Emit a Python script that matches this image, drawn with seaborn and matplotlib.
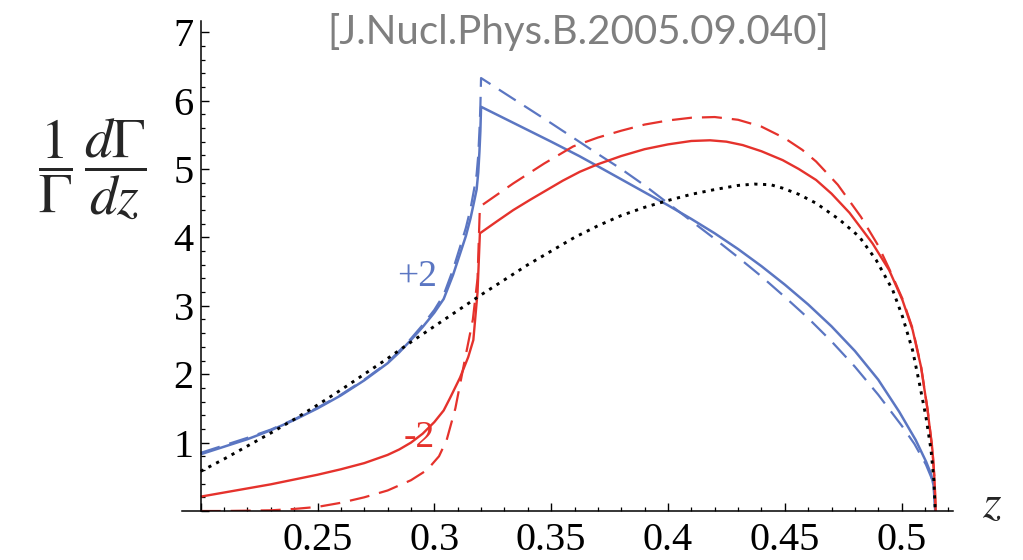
import matplotlib
matplotlib.use("Agg")
import matplotlib.pyplot as plt
import numpy as np
import pandas as pd
import seaborn as sns

# ---- data: 1/Gamma dGamma/dz versus z ----
blue_solid_z = [0.2000, 0.2100, 0.2200, 0.2300, 0.2400, 0.2500, 0.2600, 0.2700, 0.2800,
                0.2850, 0.2900, 0.2950, 0.3000, 0.3040, 0.3080, 0.3110, 0.3135, 0.3155,
                0.3170, 0.3181, 0.3188, 0.3193, 0.3197, 0.3200,
                0.3300, 0.3400, 0.3500, 0.3620, 0.3700, 0.3800, 0.3900, 0.4000, 0.4100,
                0.4200, 0.4300, 0.4400, 0.4500, 0.4600, 0.4700, 0.4800, 0.4900, 0.4990,
                0.5060, 0.5105, 0.5126, 0.5137, 0.5144]
blue_solid_y = [0.83, 0.94, 1.05, 1.18, 1.33, 1.50, 1.69, 1.91, 2.16,
                2.32, 2.50, 2.69, 2.90, 3.10, 3.45, 3.76, 4.02, 4.28,
                4.52, 4.70, 4.95, 5.25, 5.55, 5.91,
                5.74, 5.57, 5.40, 5.19, 5.04, 4.85, 4.66, 4.47, 4.27,
                4.06, 3.83, 3.58, 3.31, 3.02, 2.70, 2.34, 1.92, 1.45,
                1.04, 0.72, 0.54, 0.37, 0.00]

blue_dash_z = [0.2000, 0.2100, 0.2200, 0.2300, 0.2400, 0.2500, 0.2600, 0.2700, 0.2800,
               0.2850, 0.2900, 0.2950, 0.3000, 0.3040, 0.3080, 0.3110, 0.3135, 0.3155,
               0.3170, 0.3181, 0.3188, 0.3193, 0.3197, 0.3200,
               0.3300, 0.3400, 0.3500, 0.3620, 0.3700, 0.3800, 0.3900, 0.4000, 0.4100,
               0.4200, 0.4300, 0.4400, 0.4500, 0.4600, 0.4700, 0.4800, 0.4900, 0.5000,
               0.5055, 0.5104, 0.5132, 0.5141, 0.5144]
blue_dash_y = [0.85, 0.96, 1.07, 1.19, 1.34, 1.51, 1.70, 1.92, 2.17,
               2.34, 2.52, 2.72, 2.94, 3.16, 3.53, 3.86, 4.14, 4.42,
               4.70, 4.92, 5.20, 5.55, 5.90, 6.33,
               6.11, 5.89, 5.67, 5.40, 5.22, 5.00, 4.76, 4.50, 4.24,
               3.98, 3.71, 3.43, 3.13, 2.82, 2.48, 2.11, 1.70, 1.25,
               0.98, 0.68, 0.45, 0.26, 0.00]

red_solid_z = [0.2000, 0.2100, 0.2200, 0.2300, 0.2400, 0.2500, 0.2600, 0.2700, 0.2800,
               0.2850, 0.2900, 0.2950, 0.3000, 0.3040, 0.3067, 0.3110, 0.3145, 0.3167,
               0.3185, 0.3195,
               0.3270, 0.3338, 0.3410, 0.3480, 0.3550, 0.3623, 0.3700, 0.3800, 0.3900,
               0.4000, 0.4100, 0.4180, 0.4250, 0.4320, 0.4400, 0.4491, 0.4560, 0.4634,
               0.4700, 0.4777, 0.4830, 0.4876, 0.4947, 0.5004, 0.5047, 0.5083, 0.5111,
               0.5132, 0.5141, 0.5146]
red_solid_y = [0.21, 0.27, 0.33, 0.39, 0.46, 0.53, 0.61, 0.70, 0.82,
               0.90, 1.00, 1.13, 1.30, 1.47, 1.65, 1.95, 2.25, 2.50,
               3.20, 4.06,
               4.24, 4.40, 4.55, 4.69, 4.83, 4.96, 5.07, 5.19, 5.29,
               5.36, 5.41, 5.42, 5.40, 5.35, 5.26, 5.13, 5.00, 4.84,
               4.64, 4.36, 4.12, 3.91, 3.52, 3.08, 2.65, 2.11, 1.48,
               0.89, 0.45, 0.00]

red_dash_z = [0.2000, 0.2100, 0.2200, 0.2300, 0.2400, 0.2500, 0.2600, 0.2700, 0.2800,
              0.2900, 0.2969, 0.3020, 0.3053, 0.3090, 0.3130, 0.3165, 0.3185, 0.3195,
              0.3338, 0.3470, 0.3594, 0.3700, 0.3800, 0.3900, 0.4000, 0.4100, 0.4200,
              0.4300, 0.4400, 0.4500, 0.4575, 0.4634, 0.4727, 0.4826, 0.4900, 0.4947,
              0.5004, 0.5047, 0.5083, 0.5111, 0.5132, 0.5141, 0.5146]
red_dash_y = [0.00, 0.00, 0.005, 0.01, 0.03, 0.06, 0.12, 0.20, 0.30,
              0.45, 0.60, 0.80, 1.04, 1.50, 2.20, 2.80, 3.40, 4.45,
              4.79, 5.08, 5.33, 5.46, 5.56, 5.65, 5.71, 5.75, 5.76,
              5.72, 5.62, 5.45, 5.28, 5.11, 4.77, 4.30, 3.88, 3.54,
              3.10, 2.67, 2.12, 1.49, 0.90, 0.46, 0.00]

dot_z = [0.2000, 0.2100, 0.2200, 0.2300, 0.2400, 0.2500, 0.2600, 0.2700, 0.2800,
         0.2900, 0.3000, 0.3100, 0.3200, 0.3300, 0.3400, 0.3500, 0.3600, 0.3700,
         0.3800, 0.3900, 0.4000, 0.4100, 0.4200, 0.4300, 0.4370, 0.4440, 0.4491,
         0.4560, 0.4634, 0.4734, 0.4819, 0.4891, 0.4962, 0.5004, 0.5047, 0.5076,
         0.5104, 0.5126, 0.5138, 0.5144]
dot_y = [0.58, 0.76, 0.95, 1.14, 1.34, 1.55, 1.77, 2.00, 2.23,
         2.47, 2.70, 2.93, 3.16, 3.38, 3.60, 3.80, 4.00, 4.17,
         4.32, 4.44, 4.54, 4.63, 4.70, 4.76, 4.78, 4.77, 4.72,
         4.63, 4.50, 4.26, 4.01, 3.67, 3.23, 2.84, 2.35, 1.87,
         1.38, 0.89, 0.45, 0.00]

x_major = [0.20, 0.25, 0.30, 0.35, 0.40, 0.45, 0.50]
x_labels = ["", "0.25", "0.3", "0.35", "0.4", "0.45", "0.5"]
y_major = [0, 1, 2, 3, 4, 5, 6, 7]
y_labels = ["", "1", "2", "3", "4", "5", "6", "7"]

title_text = "[J.Nucl.Phys.B.2005.09.040]"
label_plus = "+2"
label_minus = "-2"

BLUE = "#5b76c2"
RED = "#e5322c"

sns.set_theme(style="white")
plt.rcParams["font.family"] = ["Liberation Serif", "DejaVu Serif"]
plt.rcParams["mathtext.fontset"] = "stix"

fig = plt.figure(figsize=(10.23, 5.60), dpi=100)
ax = fig.add_axes([182 / 1023, (560 - 511) / 560, (953 - 182) / 1023, (511 - 20.6) / 560])

curves = [
    (blue_solid_z, blue_solid_y, BLUE, None, 1.8),
    (blue_dash_z, blue_dash_y, BLUE, (9, 4.5), 1.6),
    (red_solid_z, red_solid_y, RED, None, 1.7),
    (red_dash_z, red_dash_y, RED, (9, 4.5), 1.6),
    (dot_z, dot_y, "black", (1.1, 1.9), 2.1),
]
for zs, ys, col, dash, lw in curves:
    df = pd.DataFrame({"z": zs, "rate": ys})
    sns.lineplot(data=df, x="z", y="rate", ax=ax, color=col, linewidth=lw,
                 sort=False, estimator=None, legend=False)
    line = ax.lines[-1]
    if dash is not None:
        line.set_dashes(dash)
    line.set_solid_capstyle("butt")
    line.set_dash_capstyle("butt")
    line.set_solid_joinstyle("round")

ax.set_xlim(0.192, 0.522)
ax.set_ylim(0, 7.17)

# Axes cross at (0.2, 0)
ax.spines["left"].set_position(("data", 0.2))
ax.spines["bottom"].set_position(("data", 0))
ax.spines["top"].set_visible(False)
ax.spines["right"].set_visible(False)
for s in ("left", "bottom"):
    ax.spines[s].set_color("black")
    ax.spines[s].set_linewidth(1.1)

ax.set_xticks(x_major)
ax.set_xticklabels(x_labels)
ax.set_xticks(np.round(np.arange(0.21, 0.5201, 0.01), 3), minor=True)
ax.set_yticks(y_major)
ax.set_yticklabels(y_labels)
ax.set_yticks(np.round(np.arange(0.2, 7.01, 0.2), 2), minor=True)

ax.tick_params(axis="both", which="both", bottom=True, left=True, top=False, right=False)
ax.tick_params(axis="both", which="major", direction="in", length=5.5, width=1.0,
               color="black", labelsize=29, labelcolor="black")
ax.tick_params(axis="both", which="minor", direction="in", length=3.2, width=0.9,
               color="black")
ax.tick_params(axis="x", which="major", pad=8)
ax.tick_params(axis="y", which="major", pad=5)
ax.set_xlabel("")
ax.set_ylabel("")
ax.grid(False)
ax.set_facecolor("white")

ax.text(0.2925, 3.42, label_plus, color=BLUE, fontsize=27, ha="center", va="center")
ax.text(0.2935, 1.07, label_minus, color=RED, fontsize=27, ha="center", va="center")

fig.text(92 / 1023, 1 - 169 / 560, r"$\dfrac{1}{\Gamma}\,\dfrac{d\Gamma}{dz}$",
         fontsize=40, ha="center", va="center")
fig.text(992 / 1023, 1 - 506 / 560, r"$z$", fontsize=34, ha="center", va="center")
fig.text(578 / 1023, 1 - 32 / 560, title_text, color="#7f7f7f", fontsize=29,
         ha="center", va="center", family=["Lato", "DejaVu Sans"])

fig.savefig("out.png", dpi=100, facecolor="white")
